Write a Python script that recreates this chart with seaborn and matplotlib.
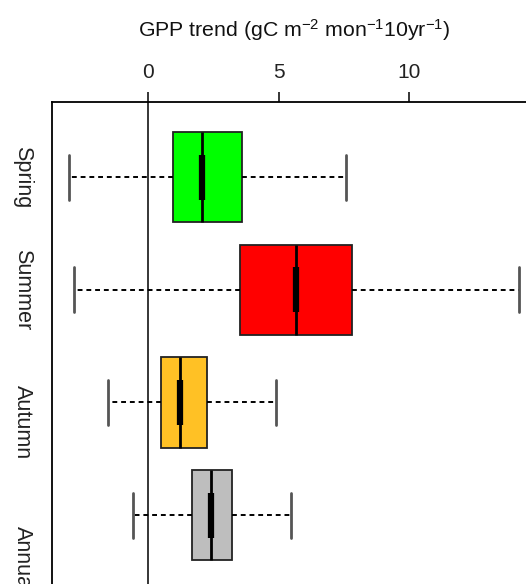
import matplotlib
matplotlib.use('Agg')
import matplotlib.pyplot as plt
import seaborn as sns
import pandas as pd

# five-number summaries (min, q1, median, q3, max)
seasons = ["Spring", "Summer", "Autumn", "Annual"]
low = [-3.03, -2.84, -1.52, -0.59]
q1 = [0.96, 3.52, 0.49, 1.67]
median = [2.07, 5.67, 1.24, 2.41]
q3 = [3.60, 7.82, 2.27, 3.20]
high = [7.59, 14.21, 4.89, 5.48]
colors = ["#00FF00", "#FF0000", "#FFC125", "#BEBEBE"]
# the season names sit a little off their ticks in the original
label_shift = [0.0, 0.0, 0.17, 0.39]

rows = []
for i, s in enumerate(seasons):
    for v in (low[i], q1[i], median[i], q3[i], high[i]):
        rows.append({"season": s, "trend": v})
df = pd.DataFrame(rows)

sns.set_style("white")
plt.rcParams['font.family'] = ['Liberation Sans', 'DejaVu Sans']
plt.rcParams['mathtext.default'] = 'regular'

fig = plt.figure(figsize=(5.26, 5.84), dpi=100)
# axes run past the right and bottom edges, as in the cropped original
ax = fig.add_axes([52 / 526, 1 - 594 / 584, 500.6 / 526, 492 / 584])

sns.boxplot(data=df, x="trend", y="season", hue="season", palette=colors,
            order=seasons, whis=(0, 100), width=0.8, saturation=1,
            legend=False, ax=ax, linecolor="#222222", linewidth=1.3,
            whiskerprops=dict(color="black", linestyle=(0, (2.5, 2)), linewidth=1.4),
            capprops=dict(color="#555555", linewidth=2),
            medianprops=dict(color="black", linewidth=2))

# thick middle part of the median bar
pos = list(range(len(seasons)))
ax.vlines(median, [p - 0.2 for p in pos], [p + 0.2 for p in pos],
          color="black", linewidth=4.5, zorder=5)

ax.axvline(0, color="black", linewidth=1.1, zorder=0.5)

ax.set_xlim(-3.68, 15.5)
ax.set_ylim(3.7, -0.666)
ax.set_xticks([0, 5, 10])
ax.xaxis.tick_top()
ax.tick_params(axis="x", direction="out", length=7.5, width=1.1, pad=7,
               labelsize=15, labelcolor="#222222", color="black")
ax.tick_params(axis="y", direction="out", length=7.5, width=1.1,
               color="black")
ax.set_yticks(pos)
ax.set_yticklabels([])
for p, s, d in zip(pos, seasons, label_shift):
    ax.text(-0.038, p + d, s, transform=ax.get_yaxis_transform(),
            rotation=270, ha="right", va="center", fontsize=15.5,
            color="#222222")
ax.set_xlabel("")
ax.set_ylabel("")
for side in ["right", "bottom"]:
    ax.spines[side].set_visible(False)
for side in ["left", "top"]:
    ax.spines[side].set_color("black")
    ax.spines[side].set_linewidth(1.3)

fig.text(138 / 526, 1 - 37 / 584,
         "GPP trend (gC m$^{-2}$ mon$^{-1}$10yr$^{-1}$)",
         ha="left", va="baseline", fontsize=15.3, color="#111111")

fig.savefig("out.png", dpi=100)
